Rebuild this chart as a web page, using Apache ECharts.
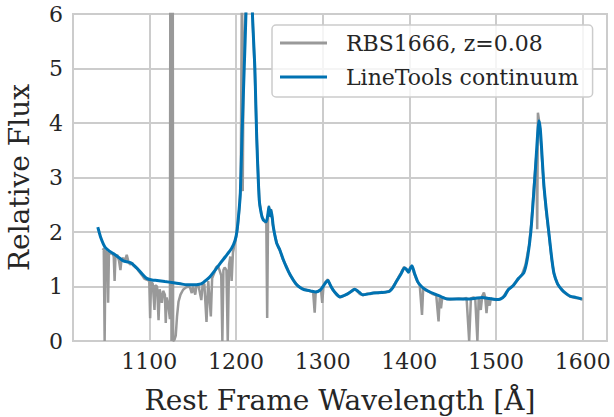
<!DOCTYPE html>
<html>
<head>
<meta charset="utf-8">
<script src="https://cdn.jsdelivr.net/npm/echarts@6/dist/echarts.min.js"></script>
<style>html,body{margin:0;padding:0;background:#fff}#c{width:614px;height:417px}</style>
</head>
<body>
<div id="c"></div>
<script>
// Observed spectrum (RBS1666, z=0.08), rest-frame wavelength [Å] and relative flux
var specWave = [1046,1047.5,1048.5,1049.5,1051.5,1052.5,1053.5,1055,1057,1059,1060,1061,1063,1065,1066.7,1068,1070,1072,1074,1076,1078,1080,1082,1084,1086,1088,1090,1092,1094,1096,1098,1100,1101,1102,1104,1106,1107,1109,1110.7,1112,1114.5,1116,1118,1119,1120,1122,1123.8,1124.8,1125.6,1126.6,1127.5,1129,1130.5,1132,1133.7,1136,1139,1142,1145,1147,1149,1150.5,1153,1154.5,1157,1160,1161.5,1163.5,1166,1168,1171,1172.5,1175,1177,1179,1181,1183,1184.3,1185.5,1187,1189,1190.5,1192,1193.5,1195,1196.5,1198,1200,1202,1204,1205.5,1207,1207.8,1208.8,1210,1211.5,1213,1215.7,1218,1219.5,1221.8,1224,1227,1230,1233,1235,1236,1237,1238,1239.5,1240.5,1242,1244,1247,1251,1254,1258,1262,1266,1270,1274,1278,1282,1286,1289,1290.8,1292,1295,1298,1299.5,1301,1303,1306,1309,1312,1316,1320,1324,1328,1332,1336,1339,1343,1347,1351,1355,1360,1364,1368,1372,1377,1381,1385,1390,1394,1396.5,1399,1401,1403,1406,1409,1412,1414.6,1416,1419,1423,1427,1431,1433.7,1435,1436.5,1438,1442,1447,1452,1457,1462,1466,1469,1471,1474,1476,1478.5,1480,1482.4,1484,1486,1487.5,1489,1490.5,1492.7,1494,1497,1500,1504,1508,1512,1516,1520,1525,1530,1534,1538,1541,1544,1546.5,1547.5,1548.3,1550,1552,1555,1558,1561,1564,1567,1571,1576,1581,1586,1592,1596,1600];
var specFlux = [1.70,1.68,0.0,1.66,1.62,0.70,1.64,1.60,1.62,1.55,1.10,1.55,1.58,1.48,1.30,1.50,1.52,1.48,1.58,1.45,1.40,1.44,1.38,1.35,1.33,1.28,1.24,1.20,1.15,1.13,1.12,1.10,0.42,1.08,1.05,0.57,1.02,1.00,0.38,0.95,0.70,0.92,0.85,0.33,0.80,0.65,0.40,14,0.0,14,0.0,0.02,0.10,0.45,0.72,0.85,0.94,0.98,1.00,0.98,0.88,1.00,0.85,1.02,1.00,0.75,1.02,1.05,0.35,1.10,0.45,1.15,1.25,1.35,1.38,1.30,1.20,0.0,1.30,1.35,1.30,0.0,1.40,1.55,1.10,1.62,1.75,1.90,2.10,2.45,2.90,7.0,2.75,5.2,5.6,6.3,8.0,9.5,7.2,5.8,4.9,3.7,2.55,2.28,2.20,2.15,0.42,2.30,2.48,2.28,2.42,2.20,2.00,1.80,1.65,1.50,1.38,1.22,1.12,1.04,0.98,0.95,0.93,0.91,0.90,0.52,0.90,0.92,0.95,0.70,1.02,1.08,1.13,1.02,0.93,0.85,0.80,0.83,0.86,0.90,0.95,0.93,0.86,0.84,0.87,0.86,0.89,0.88,0.90,0.89,0.92,0.99,1.10,1.24,1.36,1.30,1.27,1.35,1.38,1.22,1.10,1.02,0.48,0.98,0.93,0.90,0.86,0.84,0.36,0.80,0.60,0.80,0.78,0.76,0.77,0.78,0.77,0.79,0.0,0.78,0.80,0.78,0.0,0.80,0.57,0.82,0.89,0.80,0.51,0.78,0.65,0.78,0.76,0.75,0.77,0.80,0.90,0.97,1.03,1.12,1.22,1.40,1.75,2.20,2.90,3.40,2.05,4.19,4.00,3.60,2.85,2.35,1.95,1.52,1.22,1.04,0.93,0.86,0.81,0.79,0.78,0.76];

// LineTools continuum
var contWave = [1040.6,1044,1049,1054,1059,1065,1070,1075,1078,1083,1088,1093,1097,1103,1109,1118,1128,1136,1143,1150,1158,1162,1166,1170,1176,1182,1188,1195,1199,1201,1203,1205,1207,1209.5,1211.5,1213,1215.7,1217.5,1219,1221.8,1223.8,1226.8,1229,1231.5,1235,1237,1238,1239.5,1240.5,1242,1243,1247,1250.6,1254,1258,1263,1269,1274,1279,1286,1292,1297,1300.4,1303,1306,1309,1312,1316,1320,1327,1332,1337,1341,1346,1352,1358,1368,1377,1381,1385,1390,1394.3,1396.5,1399,1401,1403,1406,1409.6,1414,1419,1425,1431,1437,1444,1455,1465,1475,1484,1492,1500,1505,1510,1514,1520,1526,1532,1536,1540,1543,1545.6,1548,1549.4,1551,1552.5,1555,1558,1561,1564,1566.7,1571,1576,1581,1586,1592,1599];
var contFlux = [2.09,1.90,1.72,1.65,1.60,1.53,1.47,1.45,1.44,1.38,1.30,1.21,1.15,1.12,1.11,1.09,1.07,1.05,1.03,1.03,1.04,1.07,1.12,1.18,1.30,1.43,1.55,1.70,1.85,2.00,2.30,2.70,3.80,5.0,6.0,7.5,9.0,7.5,6.0,5.0,3.8,2.6,2.35,2.22,2.19,2.35,2.46,2.30,2.40,2.25,2.10,1.79,1.67,1.52,1.36,1.20,1.05,0.98,0.94,0.92,0.90,0.93,1.00,1.06,1.11,1.02,0.94,0.86,0.81,0.85,0.90,0.95,0.91,0.85,0.86,0.88,0.89,0.91,0.98,1.09,1.22,1.34,1.32,1.26,1.33,1.38,1.24,1.09,1.00,0.94,0.89,0.85,0.81,0.77,0.77,0.77,0.78,0.80,0.78,0.76,0.77,0.83,0.94,1.02,1.15,1.25,1.50,1.98,2.60,3.20,3.80,4.04,3.90,3.55,2.90,2.40,1.98,1.55,1.25,1.05,0.94,0.87,0.82,0.80,0.77];

var seriesNames = ['RBS1666, z=0.08', 'LineTools continuum'];
var xTicks = [1100, 1200, 1300, 1400, 1500, 1600];
var yTicks = [0, 1, 2, 3, 4, 5, 6];
var xTitle = 'Rest Frame Wavelength [Å]';
var yTitle = 'Relative Flux';

function pairs(xs, ys) { return xs.map(function (x, i) { return [x, ys[i]]; }); }

var FONT = 'DejaVu Serif';
var TXT = '#262626';
var GRID = '#cccccc';
var chart = echarts.init(document.getElementById('c'), null, { renderer: 'svg' });
chart.setOption({
  animation: false,
  backgroundColor: '#ffffff',
  grid: { left: 73, right: 7, top: 14, bottom: 76, show: true, borderColor: GRID, borderWidth: 2,
    backgroundColor: 'transparent', containLabel: false, outerBoundsMode: 'none' },
  xAxis: {
    type: 'value', min: 1012, max: 1628, interval: 4,
    name: xTitle, nameLocation: 'middle', nameGap: 45,
    nameTextStyle: { fontFamily: FONT, fontSize: 28, color: TXT },
    axisLine: { show: false }, axisTick: { show: false },
    axisLabel: { fontFamily: FONT, fontSize: 22, color: TXT, margin: 9, showMinLabel: false, showMaxLabel: false,
      formatter: function (v) { return xTicks.indexOf(Math.round(v)) >= 0 && Math.abs(v - Math.round(v)) < 1e-6 ? String(Math.round(v)) : ''; } },
    splitLine: { show: false }
  },
  yAxis: {
    type: 'value', min: 0, max: 6, interval: 1,
    name: yTitle, nameLocation: 'middle', nameGap: 40, nameRotate: 90,
    nameTextStyle: { fontFamily: FONT, fontSize: 28, color: TXT },
    axisLine: { show: false }, axisTick: { show: false },
    axisLabel: { fontFamily: FONT, fontSize: 22, color: TXT, margin: 10,
      formatter: function (v) { return yTicks.indexOf(v) >= 0 ? String(v) : ''; } },
    splitLine: { show: true, lineStyle: { color: GRID, width: 2 } }
  },
  legend: {
    left: 272, top: 25, orient: 'vertical',
    backgroundColor: 'rgba(255,255,255,0.8)', borderColor: GRID, borderWidth: 1.5, borderRadius: 4,
    padding: [6, 14, 8, 8], itemGap: 10, itemWidth: 47, itemHeight: 3, icon: 'rect',
    textStyle: { fontFamily: FONT, fontSize: 22, color: TXT, lineHeight: 24, padding: [0, 0, 0, 14] },
    data: seriesNames
  },
  series: [
    { name: seriesNames[0], type: 'line', data: pairs(specWave, specFlux), showSymbol: false, symbol: 'none',
      lineStyle: { color: '#999999', width: 2.5 }, itemStyle: { color: '#999999' }, clip: true, z: 2,
      markLine: { silent: true, symbol: 'none', z: 1, animation: false, label: { show: false },
        emphasis: { disabled: true },
        lineStyle: { color: GRID, width: 2, type: 'solid' },
        data: xTicks.map(function (t) { return { xAxis: t }; }) } },
    { name: seriesNames[1], type: 'line', data: pairs(contWave, contFlux), showSymbol: false, symbol: 'none', smooth: 0.2,
      lineStyle: { color: '#0072b2', width: 3 }, itemStyle: { color: '#0072b2' }, clip: true, z: 3 }
  ]
});
</script>
</body>
</html>
